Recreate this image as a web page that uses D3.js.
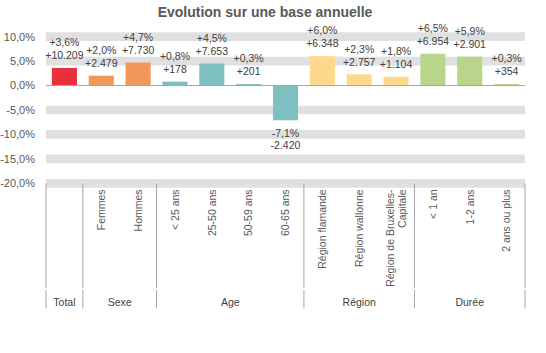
<!DOCTYPE html>
<html>
<head>
<meta charset="utf-8">
<script src="https://cdn.jsdelivr.net/npm/d3@7"></script>
<style>
  body { margin: 0; background: #fff; }
  text { font-family: "Liberation Sans", Arial, sans-serif; }
</style>
</head>
<body>
<div id="chart"></div>
<script>
// categories, groups and values
const categories = ['Total', 'Femmes', 'Hommes', '< 25 ans', '25-50 ans', '50-59 ans', '60-65 ans',
  'Région flamande', 'Région wallonne', 'Région de Bruxelles-|Capitale', '< 1 an', '1-2 ans', '2 ans ou plus'];
const groups = ['Total', 'Sexe', 'Sexe', 'Age', 'Age', 'Age', 'Age',
  'Région', 'Région', 'Région', 'Durée', 'Durée', 'Durée'];
const pctValues = [3.6, 2.0, 4.7, 0.8, 4.5, 0.3, -7.1, 6.0, 2.3, 1.8, 6.5, 5.9, 0.3];
const absValues = [10209, 2479, 7730, 178, 7653, 201, -2420, 6348, 2757, 1104, 6954, 2901, 354];
const yTicks = [10, 5, 0, -5, -10, -15, -20];
const groupColors = {Total: '#e9313b', Sexe: '#f0975c', Age: '#7ebfbf', 'Région': '#fed88d', 'Durée': '#b8d68b'};

const margin = {top: 36.6, right: 21, bottom: 169.6, left: 46};
const dim = {w: 546 - margin.left - margin.right, h: 353 - margin.top - margin.bottom};

const svg = d3.select('#chart').append('svg')
  .attr('width', 546)
  .attr('height', 353);

svg.append('text')
  .attr('x', 265).attr('y', 17)
  .attr('text-anchor', 'middle')
  .attr('font-size', 14).attr('font-weight', 'bold')
  .attr('fill', '#595959')
  .text('Evolution sur une base annuelle');

const g = svg.append('g').attr('transform', `translate(${margin.left}, ${margin.top})`);

const x = d3.scaleBand().domain(d3.range(categories.length)).range([0, dim.w]).paddingInner(0.32).paddingOuter(0.16);
const y = d3.scaleLinear().domain([-20, 10]).range([dim.h, 0]);

const minus = s => s.replace(/\u2212/g, '-');

// thick grey bands on the gridlines
g.selectAll('line.grid')
  .data(yTicks.filter(d => d !== 0))
  .enter().append('line')
  .attr('class', 'grid')
  .attr('x1', 0).attr('x2', dim.w)
  .attr('y1', d => y(d)).attr('y2', d => y(d))
  .attr('stroke', '#e0e0e0').attr('stroke-width', 8.7);

// y axis labels
g.selectAll('text.ytick')
  .data(yTicks)
  .enter().append('text')
  .attr('class', 'ytick')
  .attr('x', -11).attr('y', d => y(d))
  .attr('dy', '0.36em')
  .attr('text-anchor', 'end')
  .attr('font-size', 11).attr('fill', '#595959')
  .text(d => minus(d3.format('.1f')(d)).replace('.', ',') + '%');

// bars
g.selectAll('rect.bar')
  .data(pctValues)
  .enter().append('rect')
  .attr('class', 'bar')
  .attr('x', (d, i) => x(i))
  .attr('y', d => y(Math.max(0, d)))
  .attr('width', x.bandwidth())
  .attr('height', d => Math.abs(y(d) - y(0)))
  .attr('fill', (d, i) => groupColors[groups[i]]);

// zero line
g.append('line')
  .attr('x1', 0).attr('x2', dim.w)
  .attr('y1', y(0)).attr('y2', y(0))
  .attr('stroke', '#a6a6a6').attr('stroke-width', 1);

// data labels
const fmtPct = d => (d > 0 ? '+' : '') + minus(d3.format('.1f')(d)).replace('.', ',') + '%';
const fmtAbs = d => (d > 0 ? '+' : '') + minus(d3.format(',')(d)).replace(/,/g, '.');
const labels = g.selectAll('g.dlabel')
  .data(pctValues)
  .enter().append('g')
  .attr('class', 'dlabel')
  .attr('transform', (d, i) => `translate(${x(i) + x.bandwidth() / 2}, ${y(d)})`);
labels.append('text')
  .attr('text-anchor', 'middle').attr('font-size', 10.5).attr('fill', '#404040')
  .attr('y', d => d >= 0 ? -25.5 : 13).attr('dy', '0.36em')
  .text(d => fmtPct(d));
labels.append('text')
  .attr('text-anchor', 'middle').attr('font-size', 10.5).attr('fill', '#404040')
  .attr('y', (d, i) => d >= 0 ? -12.5 : 25).attr('dy', '0.36em')
  .text((d, i) => fmtAbs(absValues[i]));

// category axis
const axisTop = y(-20);
const step = x.step();
const boundaries = [0];
groups.forEach((gr, i) => { if (i > 0 && gr !== groups[i - 1]) boundaries.push(i); });
boundaries.push(groups.length);

g.selectAll('g.sep')
  .data(boundaries)
  .enter().append('g')
  .attr('class', 'sep')
  .each(function(b) {
    const px = b * step;
    d3.select(this).append('line')
      .attr('x1', px).attr('x2', px).attr('y1', axisTop).attr('y2', axisTop + 104.5)
      .attr('stroke', '#a6a6a6');
    d3.select(this).append('line')
      .attr('x1', px).attr('x2', px).attr('y1', axisTop + 106.5).attr('y2', axisTop + 125)
      .attr('stroke', '#a6a6a6');
  });

// rotated category labels (a one-item group shows only its group label)
g.selectAll('text.cat')
  .data(categories.map((c, i) => ({c, i})).filter(d => d.c !== groups[d.i]))
  .enter().append('text')
  .attr('class', 'cat')
  .attr('transform', d => `translate(${x(d.i) + x.bandwidth() / 2}, ${axisTop + 6}) rotate(-90)`)
  .attr('text-anchor', 'end')
  .attr('font-size', 10.5).attr('fill', '#595959')
  .each(function(d) {
    const lines = d.c.split('|');
    const t = d3.select(this);
    lines.forEach((ln, k) => {
      t.append('tspan')
        .attr('x', 0)
        .attr('y', (k - (lines.length - 1) / 2) * 12.5)
        .attr('dy', '0.36em')
        .text(ln);
    });
  });

// group labels
const groupNames = boundaries.slice(0, -1).map((b, k) => ({name: groups[b], from: b, to: boundaries[k + 1]}));
g.selectAll('text.grp')
  .data(groupNames)
  .enter().append('text')
  .attr('class', 'grp')
  .attr('x', d => (d.from + d.to) / 2 * step)
  .attr('y', axisTop + 119)
  .attr('dy', '0.36em')
  .attr('text-anchor', 'middle')
  .attr('font-size', 10.5).attr('fill', '#404040')
  .text(d => d.name);
</script>
</body>
</html>
